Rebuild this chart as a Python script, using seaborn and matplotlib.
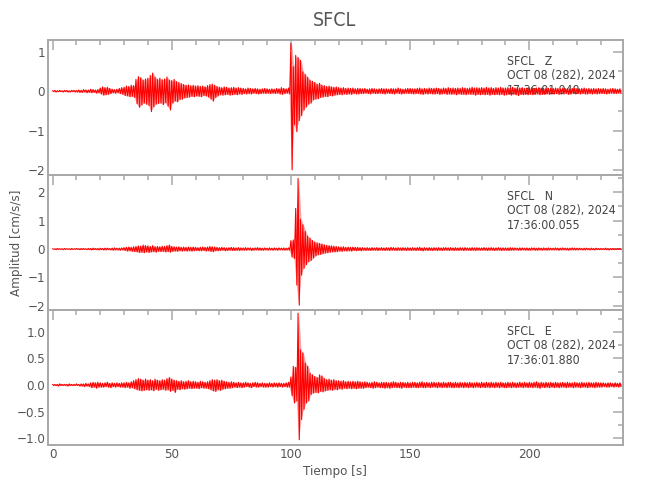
import numpy as np
import pandas as pd
import matplotlib
matplotlib.use('Agg')
import matplotlib.pyplot as plt
from matplotlib.ticker import MultipleLocator, FuncFormatter
import seaborn as sns

estacion = 'SFCL'
componentes = ['Z', 'N', 'E']
fecha = 'OCT 08 (282), 2024'
horas_inicio = ['17:36:01.940', '17:36:00.055', '17:36:01.880']
dt = 1.0  # s

z_max = [0.01, 0.02, 0.01, 0.02, 0.01, 0.02, 0.02, 0.01, 0.02, 0.02,
         0.02, 0.03, 0.02, 0.04, 0.03, 0.03, 0.05, 0.04, 0.03, 0.04,
         0.08, 0.11, 0.09, 0.10, 0.07, 0.05, 0.04, 0.05, 0.07, 0.09,
         0.10, 0.13, 0.12, 0.15, 0.14, 0.30, 0.37, 0.34, 0.28, 0.31,
         0.33, 0.40, 0.46, 0.35, 0.30, 0.33, 0.29, 0.31, 0.36, 0.28,
         0.27, 0.30, 0.24, 0.22, 0.19, 0.17, 0.15, 0.16, 0.14, 0.15,
         0.13, 0.14, 0.12, 0.13, 0.11, 0.14, 0.17, 0.18, 0.15, 0.12,
         0.10, 0.09, 0.11, 0.10, 0.08, 0.09, 0.10, 0.08, 0.09, 0.08,
         0.07, 0.06, 0.08, 0.07, 0.06, 0.07, 0.06, 0.05, 0.06, 0.07,
         0.06, 0.05, 0.06, 0.05, 0.07, 0.06, 0.09, 0.07, 0.06, 0.08,
         1.21, 0.62, 0.91, 0.85, 0.78, 0.49, 0.42, 0.35, 0.28, 0.25,
         0.22, 0.18, 0.20, 0.15, 0.14, 0.12, 0.13, 0.11, 0.10, 0.11,
         0.09, 0.08, 0.09, 0.07, 0.08, 0.07, 0.08, 0.06, 0.07, 0.07,
         0.06, 0.07, 0.05, 0.06, 0.07, 0.06, 0.05, 0.06, 0.07, 0.06,
         0.06, 0.05, 0.07, 0.06, 0.06, 0.08, 0.06, 0.05, 0.06, 0.07,
         0.07, 0.06, 0.06, 0.07, 0.08, 0.06, 0.07, 0.06, 0.08, 0.07,
         0.07, 0.08, 0.07, 0.06, 0.08, 0.07, 0.09, 0.07, 0.08, 0.07,
         0.08, 0.07, 0.09, 0.08, 0.07, 0.08, 0.10, 0.08, 0.09, 0.08,
         0.09, 0.08, 0.10, 0.08, 0.09, 0.07, 0.09, 0.08, 0.10, 0.08,
         0.08, 0.09, 0.08, 0.10, 0.08, 0.09, 0.08, 0.09, 0.07, 0.08,
         0.08, 0.09, 0.07, 0.08, 0.09, 0.08, 0.07, 0.08, 0.07, 0.08,
         0.07, 0.08, 0.07, 0.06, 0.08, 0.07, 0.07, 0.06, 0.07, 0.08,
         0.07, 0.06, 0.07, 0.08, 0.06, 0.07, 0.06, 0.07, 0.06, 0.07,
         0.06, 0.07, 0.06, 0.05, 0.06, 0.07, 0.06, 0.05, 0.06]
z_min = [-0.01, -0.02, -0.01, -0.01, -0.02, -0.01, -0.02, -0.02, -0.01, -0.02,
         -0.02, -0.03, -0.03, -0.02, -0.04, -0.03, -0.04, -0.03, -0.05, -0.04,
         -0.07, -0.10, -0.09, -0.08, -0.06, -0.04, -0.05, -0.04, -0.06, -0.08,
         -0.11, -0.12, -0.14, -0.13, -0.16, -0.32, -0.41, -0.35, -0.30, -0.33,
         -0.36, -0.52, -0.40, -0.33, -0.31, -0.30, -0.34, -0.29, -0.38, -0.48,
         -0.30, -0.25, -0.27, -0.21, -0.20, -0.17, -0.16, -0.15, -0.13, -0.14,
         -0.12, -0.13, -0.14, -0.11, -0.12, -0.15, -0.20, -0.25, -0.16, -0.12,
         -0.09, -0.10, -0.09, -0.08, -0.10, -0.09, -0.08, -0.09, -0.07, -0.08,
         -0.06, -0.07, -0.06, -0.07, -0.05, -0.06, -0.07, -0.06, -0.05, -0.06,
         -0.05, -0.06, -0.05, -0.06, -0.05, -0.07, -0.08, -0.06, -0.05, -0.07,
         -2.00, -0.85, -1.03, -0.75, -0.62, -0.48, -0.40, -0.33, -0.30, -0.22,
         -0.20, -0.19, -0.16, -0.15, -0.13, -0.14, -0.11, -0.12, -0.10, -0.09,
         -0.08, -0.09, -0.07, -0.08, -0.07, -0.08, -0.06, -0.07, -0.07, -0.06,
         -0.06, -0.05, -0.06, -0.07, -0.05, -0.06, -0.06, -0.05, -0.06, -0.07,
         -0.05, -0.06, -0.06, -0.07, -0.05, -0.06, -0.07, -0.06, -0.05, -0.06,
         -0.06, -0.07, -0.06, -0.06, -0.07, -0.08, -0.06, -0.07, -0.06, -0.07,
         -0.07, -0.06, -0.08, -0.07, -0.06, -0.08, -0.07, -0.08, -0.07, -0.09,
         -0.07, -0.08, -0.08, -0.09, -0.07, -0.08, -0.08, -0.10, -0.08, -0.09,
         -0.08, -0.09, -0.08, -0.10, -0.08, -0.09, -0.08, -0.09, -0.08, -0.10,
         -0.09, -0.08, -0.10, -0.08, -0.09, -0.11, -0.08, -0.09, -0.08, -0.09,
         -0.08, -0.09, -0.08, -0.07, -0.09, -0.08, -0.08, -0.07, -0.08, -0.07,
         -0.07, -0.06, -0.08, -0.07, -0.07, -0.06, -0.08, -0.07, -0.06, -0.07,
         -0.06, -0.07, -0.06, -0.07, -0.07, -0.06, -0.07, -0.06, -0.07, -0.06,
         -0.06, -0.06, -0.07, -0.06, -0.05, -0.06, -0.06, -0.05, -0.06]

n_max = [0.01, 0.01, 0.02, 0.01, 0.01, 0.02, 0.01, 0.01, 0.02, 0.01,
         0.02, 0.01, 0.02, 0.02, 0.01, 0.02, 0.02, 0.03, 0.02, 0.02,
         0.03, 0.02, 0.03, 0.03, 0.02, 0.03, 0.04, 0.03, 0.03, 0.04,
         0.05, 0.06, 0.07, 0.06, 0.08, 0.09, 0.11, 0.10, 0.14, 0.12,
         0.11, 0.09, 0.12, 0.08, 0.09, 0.08, 0.10, 0.09, 0.12, 0.14,
         0.09, 0.08, 0.07, 0.08, 0.06, 0.07, 0.06, 0.07, 0.06, 0.07,
         0.06, 0.05, 0.06, 0.07, 0.06, 0.07, 0.09, 0.08, 0.07, 0.06,
         0.05, 0.06, 0.05, 0.04, 0.05, 0.06, 0.05, 0.04, 0.05, 0.04,
         0.04, 0.05, 0.04, 0.04, 0.03, 0.04, 0.05, 0.04, 0.03, 0.04,
         0.03, 0.04, 0.03, 0.04, 0.03, 0.04, 0.03, 0.04, 0.03, 0.04,
         0.30, 0.32, 1.43, 2.49, 1.05, 0.85, 0.62, 0.45, 0.38, 0.30,
         0.25, 0.22, 0.20, 0.18, 0.15, 0.13, 0.12, 0.11, 0.10, 0.09,
         0.08, 0.07, 0.08, 0.06, 0.07, 0.06, 0.07, 0.06, 0.06, 0.05,
         0.05, 0.04, 0.05, 0.04, 0.05, 0.04, 0.05, 0.04, 0.05, 0.04,
         0.05, 0.04, 0.06, 0.05, 0.04, 0.05, 0.04, 0.05, 0.04, 0.05,
         0.04, 0.05, 0.04, 0.05, 0.06, 0.04, 0.05, 0.04, 0.05, 0.04,
         0.05, 0.04, 0.05, 0.04, 0.05, 0.05, 0.04, 0.05, 0.04, 0.05,
         0.04, 0.05, 0.04, 0.05, 0.04, 0.04, 0.05, 0.04, 0.05, 0.04,
         0.04, 0.05, 0.04, 0.04, 0.05, 0.04, 0.04, 0.05, 0.04, 0.04,
         0.04, 0.04, 0.05, 0.04, 0.04, 0.03, 0.04, 0.04, 0.03, 0.04,
         0.03, 0.04, 0.04, 0.03, 0.04, 0.03, 0.04, 0.03, 0.04, 0.03,
         0.03, 0.04, 0.03, 0.03, 0.04, 0.03, 0.03, 0.03, 0.04, 0.03,
         0.03, 0.03, 0.02, 0.03, 0.03, 0.02, 0.03, 0.02, 0.03, 0.02,
         0.02, 0.02, 0.03, 0.02, 0.02, 0.02, 0.01, 0.02, 0.02]
n_min = [-0.01, -0.02, -0.01, -0.01, -0.02, -0.01, -0.01, -0.02, -0.01, -0.01,
         -0.01, -0.02, -0.02, -0.01, -0.02, -0.02, -0.03, -0.02, -0.02, -0.03,
         -0.02, -0.03, -0.03, -0.02, -0.03, -0.04, -0.03, -0.03, -0.04, -0.03,
         -0.05, -0.07, -0.06, -0.08, -0.09, -0.10, -0.12, -0.11, -0.13, -0.10,
         -0.12, -0.10, -0.09, -0.11, -0.08, -0.09, -0.08, -0.10, -0.09, -0.11,
         -0.08, -0.07, -0.08, -0.06, -0.07, -0.06, -0.07, -0.06, -0.07, -0.06,
         -0.05, -0.06, -0.06, -0.05, -0.07, -0.06, -0.08, -0.09, -0.06, -0.06,
         -0.05, -0.04, -0.06, -0.05, -0.04, -0.05, -0.05, -0.04, -0.05, -0.04,
         -0.04, -0.04, -0.03, -0.05, -0.04, -0.03, -0.04, -0.04, -0.04, -0.03,
         -0.04, -0.03, -0.04, -0.03, -0.04, -0.03, -0.03, -0.04, -0.03, -0.04,
         -0.28, -0.33, -1.27, -1.98, -0.92, -0.68, -0.55, -0.45, -0.40, -0.32,
         -0.24, -0.20, -0.19, -0.16, -0.14, -0.13, -0.11, -0.10, -0.10, -0.09,
         -0.07, -0.08, -0.06, -0.07, -0.06, -0.07, -0.05, -0.06, -0.05, -0.06,
         -0.04, -0.05, -0.04, -0.05, -0.04, -0.04, -0.05, -0.04, -0.04, -0.05,
         -0.04, -0.05, -0.04, -0.04, -0.05, -0.04, -0.05, -0.04, -0.05, -0.04,
         -0.05, -0.04, -0.05, -0.04, -0.05, -0.06, -0.04, -0.05, -0.04, -0.05,
         -0.04, -0.05, -0.04, -0.05, -0.04, -0.04, -0.05, -0.04, -0.05, -0.04,
         -0.05, -0.04, -0.05, -0.04, -0.04, -0.05, -0.04, -0.05, -0.04, -0.04,
         -0.04, -0.04, -0.05, -0.04, -0.04, -0.05, -0.04, -0.04, -0.05, -0.04,
         -0.04, -0.05, -0.04, -0.04, -0.03, -0.04, -0.04, -0.03, -0.04, -0.04,
         -0.04, -0.03, -0.04, -0.04, -0.03, -0.04, -0.03, -0.04, -0.03, -0.03,
         -0.03, -0.03, -0.04, -0.03, -0.03, -0.03, -0.04, -0.03, -0.03, -0.03,
         -0.03, -0.02, -0.03, -0.03, -0.02, -0.03, -0.02, -0.03, -0.02, -0.02,
         -0.02, -0.02, -0.02, -0.03, -0.02, -0.02, -0.02, -0.01, -0.02]

e_max = [0.01, 0.01, 0.01, 0.02, 0.01, 0.01, 0.01, 0.02, 0.01, 0.01,
         0.02, 0.01, 0.02, 0.02, 0.03, 0.02, 0.04, 0.05, 0.04, 0.05,
         0.04, 0.03, 0.04, 0.05, 0.03, 0.04, 0.03, 0.04, 0.03, 0.04,
         0.04, 0.05, 0.04, 0.06, 0.08, 0.10, 0.12, 0.11, 0.09, 0.11,
         0.09, 0.10, 0.08, 0.11, 0.09, 0.08, 0.10, 0.09, 0.12, 0.14,
         0.11, 0.09, 0.08, 0.07, 0.08, 0.06, 0.07, 0.08, 0.06, 0.07,
         0.06, 0.05, 0.07, 0.06, 0.05, 0.06, 0.08, 0.10, 0.09, 0.10,
         0.08, 0.09, 0.07, 0.06, 0.05, 0.06, 0.05, 0.04, 0.05, 0.04,
         0.04, 0.05, 0.04, 0.03, 0.04, 0.05, 0.04, 0.03, 0.04, 0.03,
         0.03, 0.04, 0.03, 0.04, 0.03, 0.04, 0.03, 0.03, 0.04, 0.05,
         0.15, 0.35, 0.33, 1.35, 0.66, 0.60, 0.41, 0.35, 0.22, 0.19,
         0.16, 0.14, 0.19, 0.17, 0.12, 0.10, 0.11, 0.09, 0.10, 0.08,
         0.08, 0.07, 0.08, 0.06, 0.07, 0.06, 0.07, 0.06, 0.07, 0.06,
         0.05, 0.06, 0.05, 0.04, 0.05, 0.06, 0.05, 0.04, 0.05, 0.05,
         0.05, 0.04, 0.05, 0.06, 0.05, 0.04, 0.05, 0.05, 0.04, 0.05,
         0.04, 0.05, 0.05, 0.04, 0.05, 0.06, 0.04, 0.05, 0.04, 0.05,
         0.05, 0.04, 0.05, 0.04, 0.05, 0.04, 0.05, 0.05, 0.04, 0.05,
         0.04, 0.05, 0.04, 0.05, 0.04, 0.05, 0.04, 0.04, 0.05, 0.04,
         0.05, 0.04, 0.05, 0.04, 0.05, 0.04, 0.05, 0.04, 0.05, 0.04,
         0.04, 0.05, 0.04, 0.05, 0.04, 0.04, 0.05, 0.04, 0.05, 0.04,
         0.05, 0.04, 0.05, 0.06, 0.04, 0.05, 0.04, 0.05, 0.04, 0.05,
         0.04, 0.05, 0.04, 0.04, 0.05, 0.04, 0.05, 0.04, 0.04, 0.05,
         0.04, 0.04, 0.05, 0.04, 0.04, 0.05, 0.04, 0.04, 0.05, 0.04,
         0.04, 0.04, 0.03, 0.04, 0.04, 0.03, 0.04, 0.03, 0.04]
e_min = [-0.01, -0.01, -0.02, -0.01, -0.01, -0.01, -0.02, -0.01, -0.01, -0.01,
         -0.01, -0.02, -0.02, -0.03, -0.02, -0.03, -0.05, -0.04, -0.06, -0.04,
         -0.04, -0.04, -0.03, -0.04, -0.05, -0.03, -0.04, -0.03, -0.04, -0.04,
         -0.05, -0.04, -0.06, -0.05, -0.07, -0.09, -0.10, -0.11, -0.10, -0.09,
         -0.10, -0.09, -0.11, -0.08, -0.10, -0.09, -0.08, -0.10, -0.09, -0.12,
         -0.10, -0.14, -0.08, -0.09, -0.07, -0.08, -0.07, -0.06, -0.07, -0.06,
         -0.06, -0.07, -0.05, -0.06, -0.06, -0.07, -0.09, -0.11, -0.12, -0.09,
         -0.10, -0.08, -0.07, -0.06, -0.06, -0.05, -0.04, -0.05, -0.04, -0.05,
         -0.04, -0.03, -0.04, -0.05, -0.03, -0.04, -0.04, -0.03, -0.04, -0.04,
         -0.04, -0.03, -0.04, -0.03, -0.04, -0.03, -0.04, -0.03, -0.04, -0.04,
         -0.20, -0.34, -0.30, -1.03, -0.65, -0.46, -0.34, -0.30, -0.18, -0.15,
         -0.14, -0.15, -0.12, -0.13, -0.11, -0.10, -0.09, -0.10, -0.08, -0.09,
         -0.07, -0.08, -0.06, -0.07, -0.06, -0.07, -0.06, -0.07, -0.06, -0.06,
         -0.06, -0.05, -0.04, -0.05, -0.06, -0.05, -0.04, -0.05, -0.05, -0.06,
         -0.05, -0.06, -0.05, -0.04, -0.05, -0.05, -0.06, -0.04, -0.05, -0.05,
         -0.05, -0.04, -0.05, -0.05, -0.04, -0.05, -0.05, -0.04, -0.05, -0.04,
         -0.04, -0.05, -0.04, -0.05, -0.04, -0.05, -0.04, -0.05, -0.05, -0.04,
         -0.05, -0.04, -0.05, -0.04, -0.05, -0.04, -0.05, -0.04, -0.04, -0.05,
         -0.04, -0.05, -0.04, -0.05, -0.04, -0.05, -0.04, -0.05, -0.04, -0.05,
         -0.05, -0.04, -0.05, -0.04, -0.05, -0.04, -0.04, -0.05, -0.04, -0.05,
         -0.04, -0.05, -0.04, -0.05, -0.06, -0.04, -0.05, -0.04, -0.05, -0.04,
         -0.05, -0.04, -0.05, -0.04, -0.04, -0.05, -0.04, -0.04, -0.05, -0.04,
         -0.04, -0.05, -0.04, -0.04, -0.05, -0.04, -0.04, -0.05, -0.04, -0.04,
         -0.04, -0.03, -0.04, -0.04, -0.03, -0.04, -0.03, -0.04, -0.03]

maximos = [z_max, n_max, e_max]
minimos = [z_min, n_min, e_min]

# limites de cada panel
y_limites = [(-2.13, 1.30), (-2.15, 2.61), (-1.13, 1.41)]
y_mayor = [1.0, 1.0, 0.5]
y_menor = [0.5, 0.5, 0.25]
y_formato = ['{:.0f}', '{:.0f}', '{:.1f}']

# --- armar la traza: max y min alternados en cada segundo ---
frames = []
for comp, sup, inf in zip(componentes, maximos, minimos):
    t = np.arange(len(sup)) * dt
    tiempo = np.column_stack([t, t + dt / 2]).ravel()
    amp = np.column_stack([sup, inf]).ravel()
    frames.append(pd.DataFrame({'Tiempo': tiempo, 'Amplitud': amp, 'Componente': comp}))
df = pd.concat(frames, ignore_index=True)

# --- grafico ---
sns.set_style('white')
plt.rcParams['font.family'] = ['DejaVu Sans']
plt.rcParams['font.stretch'] = 'condensed'

gris = '#a8a8a8'
texto = '#555555'

fig, axes = plt.subplots(3, 1, figsize=(6.5, 5), dpi=100, sharex=True)
fig.subplots_adjust(left=48 / 650, right=623 / 650, top=1 - 40 / 500,
                    bottom=1 - 445 / 500, hspace=0)

for i, ax in enumerate(axes):
    comp = componentes[i]
    # relleno suave de la envolvente + traza
    t = np.arange(len(maximos[i])) * dt
    ax.fill_between(t + dt / 4, minimos[i], maximos[i], color='#ff0000',
                    alpha=0.35, lw=0)
    sns.lineplot(data=df[df['Componente'] == comp], x='Tiempo', y='Amplitud',
                 ax=ax, color='#ff0000', lw=0.8, estimator=None, sort=False,
                 legend=False)
    ax.set_xlabel('')
    ax.set_ylabel('')
    ax.set_xlim(-1.9, 239.3)
    ax.set_ylim(*y_limites[i])
    ax.xaxis.set_major_locator(MultipleLocator(50))
    ax.xaxis.set_minor_locator(MultipleLocator(10))
    ax.yaxis.set_major_locator(MultipleLocator(y_mayor[i]))
    ax.yaxis.set_minor_locator(MultipleLocator(y_menor[i]))
    fmt = y_formato[i]
    ax.yaxis.set_major_formatter(
        FuncFormatter(lambda v, p, fmt=fmt: fmt.format(v + 0.0).replace('-', '\u2212')))

    for s in ax.spines.values():
        s.set_color(gris)
        s.set_linewidth(1.4)
    ax.tick_params(which='both', direction='in', top=True, right=True,
                   color=gris, labelcolor=texto, labelsize=9.5, pad=2)
    ax.tick_params(which='major', length=7, width=1.1)
    ax.tick_params(which='minor', length=3.6, width=1.1)

    # encabezado de la estacion
    lineas = [f'{estacion}   {comp}', fecha, horas_inicio[i]]
    for k, linea in enumerate(lineas):
        ax.text(0.798, 0.839 - k * 0.105, linea, transform=ax.transAxes,
                ha='left', va='center', fontsize=8.8, color='#444444', zorder=1)

fig.text(0.515, 0.959, estacion, ha='center', va='center', fontsize=14, color=texto)
fig.text(0.025, 0.515, 'Amplitud [cm/s/s]', rotation=90, ha='center', va='center',
         fontsize=9.5, color=texto)
fig.text(0.515, 0.056, 'Tiempo [s]', ha='center', va='center', fontsize=9.5, color=texto)

plt.savefig('out.png', dpi=100)
